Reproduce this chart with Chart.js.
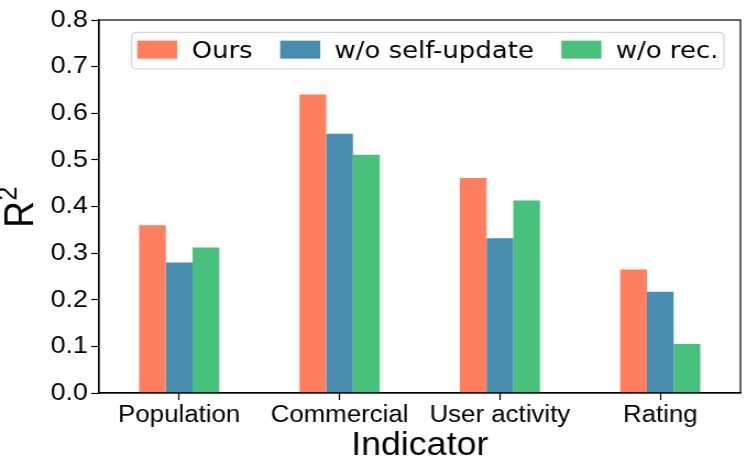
<!DOCTYPE html>
<html>
<head>
<meta charset="utf-8">
<script src="https://cdn.jsdelivr.net/npm/chart.js@4"></script>
<style>
  html, body { margin: 0; padding: 0; background: #fff; overflow: hidden; }
  /* original figure is slightly stretched horizontally, so draw narrower and scale */
  #wrap { width: 679px; height: 476px; transform: scaleX(1.1002); transform-origin: 0 0; }
</style>
</head>
<body>
<div id="wrap"><canvas id="chart"></canvas></div>
<script>
// ---- data ----
const categories = ['Population', 'Commercial', 'User activity', 'Rating'];
const seriesLabels = ['Ours', 'w/o self-update', 'w/o rec.'];
const oursValues = [0.360, 0.640, 0.461, 0.265];
const noSelfUpdateValues = [0.280, 0.556, 0.332, 0.217];
const noRecValues = [0.312, 0.511, 0.413, 0.105];
const yMin = 0, yMax = 0.8, yStep = 0.1;

const colors = ['#FF7F5E', '#488CB0', '#48C17C'];
const TICK_FONT = 'Liberation Sans, Arial, sans-serif';

// full box around the plot area (matplotlib style)
const framePlugin = {
  id: 'frame',
  afterDatasetsDraw(chart) {
    const { ctx, chartArea: a } = chart;
    ctx.save();
    ctx.strokeStyle = '#000';
    ctx.lineWidth = 1.2;
    ctx.strokeRect(a.left, a.top, a.right - a.left, a.bottom - a.top);
    ctx.restore();
  }
};

// y axis title "R" with superscript 2
const yTitle = {
  id: 'yTitle',
  afterDraw(chart) {
    const { ctx, chartArea: a } = chart;
    ctx.save();
    ctx.fillStyle = '#000';
    ctx.textBaseline = 'alphabetic';
    const big = '37px "Liberation Sans"', small = '25px "Liberation Sans"';
    ctx.font = big;
    const wR = ctx.measureText('R').width;
    ctx.font = small;
    const w2 = ctx.measureText('2').width;
    const total = wR + w2;
    ctx.translate(30, (a.top + a.bottom) / 2 + 1);
    ctx.rotate(-Math.PI / 2);
    ctx.font = big;
    ctx.fillText('R', -total / 2, 0);
    ctx.font = small;
    ctx.fillText('2', -total / 2 + wR + 0.5, -15);
    ctx.restore();
  }
};

// legend drawn inside the plot, upper right
const innerLegend = {
  id: 'innerLegend',
  afterDraw(chart) {
    const { ctx, chartArea: a } = chart;
    const ds = chart.data.datasets;
    ctx.save();
    ctx.font = '23.6px "DejaVu Sans"';
    const sw = 36.4, sh = 18, pad = 5, textGap = 13, itemGap = 25;
    const widths = ds.map(d => ctx.measureText(d.label).width);
    let total = pad * 2;
    widths.forEach((w, i) => { total += sw + textGap + w + (i < widths.length - 1 ? itemGap : 0); });
    const boxH = 36.7;
    const right = a.right - 15;
    const left = right - total;
    const top = a.top + 12.3;

    ctx.fillStyle = 'rgba(255,255,255,0.8)';
    ctx.strokeStyle = '#d4d4d4';
    ctx.lineWidth = 1.2;
    ctx.beginPath();
    ctx.roundRect(left, top, total, boxH, 4);
    ctx.fill();
    ctx.stroke();

    const cy = top + boxH / 2;
    let x = left + pad;
    ds.forEach((d, i) => {
      ctx.fillStyle = d.backgroundColor;
      ctx.fillRect(x, cy - sh / 2 - 1, sw, sh);
      x += sw + textGap;
      ctx.fillStyle = '#000';
      ctx.textBaseline = 'middle';
      ctx.fillText(d.label, x, cy + 1);
      x += widths[i] + itemGap;
    });
    ctx.restore();
  }
};

new Chart(document.getElementById('chart'), {
  type: 'bar',
  data: {
    labels: categories,
    datasets: [
      { label: seriesLabels[0], data: oursValues, backgroundColor: colors[0] },
      { label: seriesLabels[1], data: noSelfUpdateValues, backgroundColor: colors[1] },
      { label: seriesLabels[2], data: noRecValues, backgroundColor: colors[2] }
    ]
  },
  options: {
    responsive: true,
    maintainAspectRatio: false,
    animation: false,
    layout: { padding: { top: 20, right: 6, left: 0, bottom: 0 } },
    datasets: { bar: { categoryPercentage: 0.5, barPercentage: 1.0, borderWidth: 0 } },
    plugins: { legend: { display: false }, tooltip: { enabled: false } },
    scales: {
      x: {
        afterFit(scale) { scale.height = 83; },
        grid: { display: true, offset: false, drawOnChartArea: false, drawTicks: true, tickLength: 7, color: '#000', tickWidth: 1.2 },
        border: { color: '#000', width: 1.2 },
        ticks: { color: '#000', padding: 1, maxRotation: 0, autoSkip: false, font: { family: TICK_FONT, size: 23.5 } },
        title: { display: true, text: 'Indicator', color: '#000', padding: { top: 0, bottom: 10 }, font: { family: TICK_FONT, size: 32.5 } }
      },
      y: {
        min: yMin,
        max: yMax,
        afterFit(scale) { scale.width = 90; },
        grid: { display: true, drawOnChartArea: false, drawTicks: true, tickLength: 7, color: '#000', tickWidth: 1.2 },
        border: { color: '#000', width: 1.2 },
        ticks: { stepSize: yStep, color: '#000', padding: 3, font: { family: TICK_FONT, size: 24.5 }, callback: v => v.toFixed(1) },
        title: { display: false }
      }
    }
  },
  plugins: [framePlugin, yTitle, innerLegend]
});
</script>
</body>
</html>
